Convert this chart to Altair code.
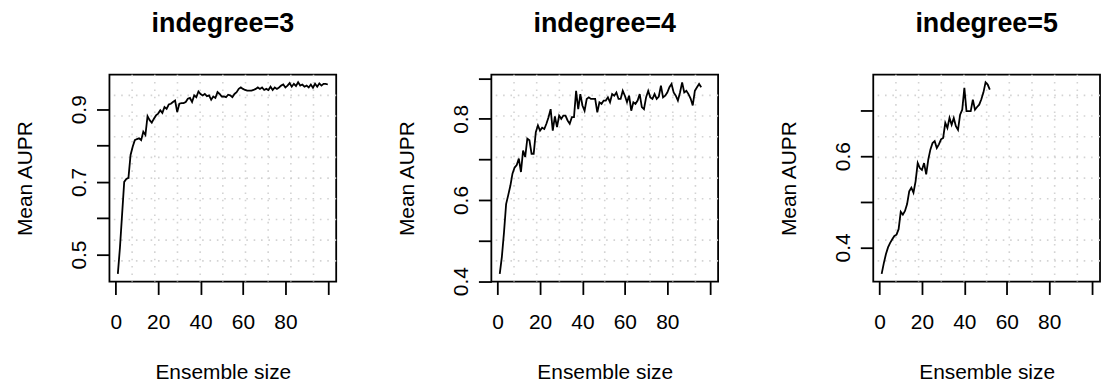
import json
import altair as alt
import pandas as pd

# ---- data ----
titles = ["indegree=3", "indegree=4", "indegree=5"]

sizes1 = list(range(1, 101))
aupr1 = [0.447, 0.52, 0.61, 0.70, 0.708, 0.711, 0.774, 0.797, 0.815, 0.818,
         0.820, 0.815, 0.838, 0.829, 0.881, 0.870, 0.863, 0.874, 0.883, 0.888,
         0.897, 0.890, 0.906, 0.901, 0.913, 0.915, 0.920, 0.924, 0.892, 0.915,
         0.917, 0.917, 0.920, 0.929, 0.931, 0.920, 0.938, 0.933, 0.949, 0.942,
         0.938, 0.942, 0.936, 0.938, 0.926, 0.935, 0.931, 0.947, 0.942, 0.935,
         0.935, 0.933, 0.940, 0.938, 0.933, 0.942, 0.947, 0.956, 0.960, 0.956,
         0.953, 0.951, 0.951, 0.951, 0.953, 0.956, 0.960, 0.956, 0.960, 0.953,
         0.956, 0.953, 0.962, 0.953, 0.960, 0.956, 0.960, 0.965, 0.968, 0.960,
         0.965, 0.972, 0.962, 0.970, 0.964, 0.974, 0.965, 0.968, 0.962, 0.965,
         0.960, 0.968, 0.959, 0.970, 0.962, 0.971, 0.965, 0.970, 0.970, 0.968]

sizes2 = list(range(1, 97))
aupr2 = [0.418, 0.46, 0.52, 0.59, 0.612, 0.635, 0.665, 0.680, 0.686, 0.702,
         0.669, 0.722, 0.706, 0.751, 0.747, 0.714, 0.714, 0.767, 0.784, 0.771,
         0.778, 0.775, 0.788, 0.804, 0.824, 0.771, 0.806, 0.780, 0.808, 0.800,
         0.808, 0.808, 0.796, 0.788, 0.804, 0.804, 0.869, 0.824, 0.861, 0.833,
         0.820, 0.849, 0.853, 0.849, 0.849, 0.849, 0.816, 0.841, 0.837, 0.845,
         0.845, 0.853, 0.841, 0.861, 0.857, 0.865, 0.849, 0.849, 0.869, 0.857,
         0.841, 0.857, 0.820, 0.841, 0.837, 0.845, 0.861, 0.829, 0.824, 0.853,
         0.869, 0.853, 0.849, 0.861, 0.849, 0.855, 0.882, 0.853, 0.857, 0.865,
         0.878, 0.886, 0.865, 0.857, 0.845, 0.865, 0.890, 0.865, 0.869, 0.861,
         0.850, 0.833, 0.869, 0.878, 0.886, 0.878]

sizes3 = list(range(1, 53))
aupr3 = [0.342, 0.365, 0.385, 0.400, 0.410, 0.418, 0.425, 0.428, 0.440, 0.478,
         0.472, 0.480, 0.495, 0.523, 0.531, 0.520, 0.545, 0.585, 0.574, 0.570,
         0.585, 0.560, 0.593, 0.615, 0.629, 0.633, 0.618, 0.626, 0.637, 0.640,
         0.673, 0.662, 0.684, 0.669, 0.684, 0.666, 0.658, 0.691, 0.702, 0.750,
         0.699, 0.699, 0.699, 0.724, 0.702, 0.708, 0.713, 0.725, 0.740, 0.762,
         0.757, 0.746]

x_limits = [1, 100]
x_ticks = [0, 20, 40, 60, 80, 100]
x_labels = [0, 20, 40, 60, 80]
y_ticks = [[0.5, 0.6, 0.7, 0.8, 0.9],
           [0.4, 0.5, 0.6, 0.7, 0.8, 0.9],
           [0.4, 0.5, 0.6, 0.7]]
y_labels = [[0.5, 0.7, 0.9], [0.4, 0.6, 0.8], [0.4, 0.6]]

FONT = "Liberation Sans"
W, H = 228, 208
GRID_COLOR = "#d3d3d3"


def r_range(lo, hi):
    d = (hi - lo) * 0.04
    return [lo - d, hi + d]


def grid_positions(dom):
    lo, hi = dom
    return [lo + k * (hi - lo) / 10 for k in range(1, 10)]


def label_expr(shown):
    return f"indexof({json.dumps(shown)}, datum.value) >= 0 ? datum.label : ''"


x_axis = alt.Axis(
    values=x_ticks, labelExpr=label_expr(x_labels), title="Ensemble size",
    domain=False, grid=False, tickSize=13, tickWidth=1.8, tickColor="black",
    labelFont=FONT, labelFontSize=21, labelColor="black", labelBaseline="alphabetic",
    labelPadding=34, labelFlush=False, labelOverlap=False,
    titleFont=FONT, titleFontSize=21, titleFontWeight="normal", titleColor="black",
    titleBaseline="alphabetic", titleY=98, titleX=W / 2, titleAnchor="middle",
)


def y_axis(i):
    return alt.Axis(
        values=y_ticks[i], labelExpr=label_expr(y_labels[i]), title="Mean AUPR",
        domain=False, grid=False, tickSize=13, tickWidth=1.8, tickColor="black",
        labelFont=FONT, labelFontSize=21, labelColor="black", labelAngle=270,
        labelAlign="center", labelBaseline="alphabetic", labelPadding=11,
        labelFlush=False, labelOverlap=False,
        titleFont=FONT, titleFontSize=21, titleFontWeight="normal", titleColor="black",
        titleAngle=270, titleBaseline="alphabetic", titleAlign="center",
        titleX=-78, titleY=H / 2,
    )


def panel(i, sizes, aupr):
    xdom = r_range(*x_limits)
    ydom = r_range(min(aupr), max(aupr))
    xs = alt.Scale(domain=xdom, nice=False, zero=False)
    ys = alt.Scale(domain=ydom, nice=False, zero=False)
    df = pd.DataFrame({"size": sizes, "aupr": aupr})
    gx = pd.DataFrame({"gx": grid_positions(xdom)})
    gy = pd.DataFrame({"gy": grid_positions(ydom)})
    vgrid = alt.Chart(gx).mark_rule(color=GRID_COLOR, strokeWidth=1.6,
                                    strokeDash=[1.6, 5.8]).encode(
        x=alt.X("gx:Q", scale=xs, axis=x_axis))
    hgrid = alt.Chart(gy).mark_rule(color=GRID_COLOR, strokeWidth=1.6,
                                    strokeDash=[1.6, 5.8]).encode(
        y=alt.Y("gy:Q", scale=ys, axis=y_axis(i)))
    line = alt.Chart(df).mark_line(color="black", strokeWidth=1.8).encode(
        x=alt.X("size:Q", scale=xs, axis=x_axis),
        y=alt.Y("aupr:Q", scale=ys, axis=y_axis(i)))
    return alt.layer(vgrid, hgrid, line).properties(
        width=W, height=H,
        title=alt.TitleParams(titles[i], font=FONT, fontSize=27, fontWeight="bold",
                              color="black", anchor="middle", baseline="alphabetic",
                              offset=15),
    )


chart = alt.hconcat(
    panel(0, sizes1, aupr1),
    panel(1, sizes2, aupr2),
    panel(2, sizes3, aupr3),
    spacing=156, bounds="flush",
).properties(
    padding={"left": 6, "top": 0, "right": 0, "bottom": 0},
    background="white",
).configure_view(stroke="black", strokeWidth=1.8)

chart.save("out.html", embed_options={"renderer": "svg", "actions": False})
